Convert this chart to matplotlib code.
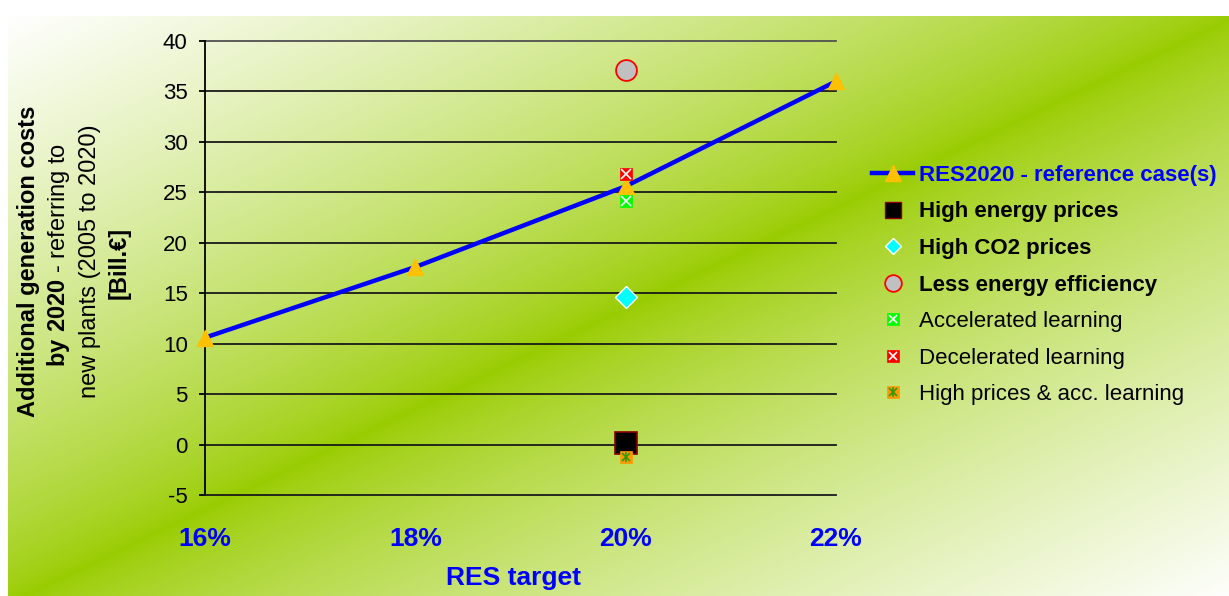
import numpy as np
import matplotlib
matplotlib.use("Agg")
import matplotlib.pyplot as plt
from matplotlib.lines import Line2D
from matplotlib.legend_handler import HandlerTuple

plt.rcParams['font.family'] = ['Liberation Sans', 'DejaVu Sans']
plt.rcParams['mathtext.fontset'] = 'custom'
plt.rcParams['mathtext.rm'] = 'Liberation Sans'
plt.rcParams['mathtext.bf'] = 'Liberation Sans:bold'

# ---- data ----
categories = ['16%', '18%', '20%', '22%']
reference_case = [10.6, 17.6, 25.6, 36.0]

scenario_category = '20%'
high_energy_prices = 0.2
high_co2_prices = 14.6
less_energy_efficiency = 37.1
accelerated_learning = 24.1
decelerated_learning = 26.8
high_prices_acc_learning = -1.2

y_ticks = [-5, 0, 5, 10, 15, 20, 25, 30, 35, 40]

W, H, DPI = 1229, 596, 100
fig = plt.figure(figsize=(W / DPI, H / DPI), dpi=DPI)
fig.patch.set_facecolor('white')

# ---- diagonal white-green-white background ----
bx0, by0 = 8, 16
bg = fig.add_axes([bx0 / W, 0, (W - bx0) / W, (H - by0) / H], zorder=-10)
xx, yy = np.meshgrid(np.arange(bx0, W) + 0.5, np.arange(by0, H) + 0.5)
slope = -0.478
ridge_y = 496 + slope * (xx - 233)
dist = np.abs(yy - ridge_y) / np.sqrt(1 + slope ** 2)
t = np.clip(dist / 530.0, 0, 1) ** 0.75
green = np.array([153, 204, 0]) / 255.0
white = np.array([1.0, 1.0, 1.0])
img = green[None, None, :] + (white - green)[None, None, :] * t[..., None]
bg.imshow(img, aspect='auto', interpolation='bilinear')
bg.set_axis_off()

# ---- plot area ----
left, right, top, bottom = 205, 836, 41, 495
ax = fig.add_axes([left / W, 1 - bottom / H, (right - left) / W, (bottom - top) / H])
ax.set_facecolor('none')

x = np.arange(len(categories))
xs = categories.index(scenario_category)

ax.set_xlim(0, len(categories) - 1)
ax.set_ylim(-5, 40)
ax.set_yticks(y_ticks)
ax.set_yticklabels([str(v) for v in y_ticks])
ax.set_xticks(x)
ax.set_xticklabels(categories)

for v in y_ticks[1:]:
    ax.axhline(v, color='#505050' if v == y_ticks[-1] else '#1a1a1a',
               lw=1.3, zorder=1, clip_on=False)

for s in ['top', 'right']:
    ax.spines[s].set_visible(False)
ax.spines['left'].set_color('black')
ax.spines['left'].set_linewidth(1.3)
ax.spines['bottom'].set_color('#1a1a1a')
ax.spines['bottom'].set_linewidth(1.3)

ax.tick_params(axis='y', length=4.5, width=1.3, color='black', pad=8,
               labelsize=16, labelcolor='black')
ax.tick_params(axis='x', length=0, pad=23, labelsize=19, labelcolor='#0000FF')
for lab in ax.get_xticklabels():
    lab.set_fontweight('bold')

# reference line
ax.plot(x, reference_case, color='#0000FF', lw=3.2, zorder=3,
        solid_capstyle='butt', clip_on=False)
ax.plot(x, reference_case, ls='none', marker='^', ms=12, mfc='#FFC000',
        mec='#FFC000', zorder=4, clip_on=False)

# scenario markers
ax.plot([xs], [high_energy_prices], marker='s', ms=15.5, mfc='black',
        mec='#8B0000', mew=1.2, ls='none', zorder=5)
ax.plot([xs], [high_co2_prices], marker='D', ms=11, mfc='#00FFFF',
        mec='white', mew=1.0, ls='none', zorder=5)
ax.plot([xs], [less_energy_efficiency], marker='o', ms=15, mfc='#C0C0C0',
        mec='#FF0000', mew=1.3, ls='none', zorder=5)

def x_box(val, face, cross, star=False, ms=9, z=6):
    ax.plot([xs], [val], marker='s', ms=ms, mfc=face, mec=face, mew=0.5,
            ls='none', zorder=z)
    ax.plot([xs], [val], marker='x', ms=ms * 0.75, mec=cross, mew=1.2,
            ls='none', zorder=z + 0.1)
    if star:
        ax.plot([xs], [val], marker='|', ms=ms * 0.85, mec=cross, mew=1.2,
                ls='none', zorder=z + 0.1)

x_box(accelerated_learning, '#00FF00', 'white')
x_box(decelerated_learning, '#FF0000', 'white')
x_box(high_prices_acc_learning, '#FF9900', '#339900', star=True, ms=8)

# ---- axis titles ----
fig.text(514 / W, 1 - 578 / H, 'RES target', color='#0000FF', fontsize=19,
         fontweight='bold', ha='center', va='center')

fig.text(29 / W, 1 - 261 / H, 'Additional generation costs', rotation=90,
         fontsize=17, fontweight='bold', ha='center', va='center')
fig.text(58 / W, 1 - 255 / H, r'$\mathbf{by\ 2020}$ - referring to', rotation=90,
         fontsize=17, ha='center', va='center')
fig.text(90 / W, 1 - 261 / H, 'new plants (2005 to 2020)', rotation=90,
         fontsize=17, ha='center', va='center')
fig.text(119 / W, 1 - 263 / H, '[Bill.€]', rotation=90, fontsize=17,
         fontweight='bold', ha='center', va='center')

# ---- legend ----
def sq(face, edge, ms, mew=1.0, marker='s'):
    return Line2D([], [], ls='none', marker=marker, ms=ms, mfc=face, mec=edge, mew=mew)

h_ref = (Line2D([], [], color='#0000FF', lw=3.2),
         Line2D([], [], ls='none', marker='^', ms=11, mfc='#FFC000', mec='#FFC000'))
h_hep = sq('black', '#8B0000', 11.5)
h_co2 = sq('#00FFFF', 'white', 8.5, marker='D')
h_lee = sq('#C0C0C0', '#FF0000', 12, mew=1.3, marker='o')
h_acc = (sq('#00FF00', '#00FF00', 8, 0.5),
         Line2D([], [], ls='none', marker='x', ms=6, mec='white', mew=1.2))
h_dec = (sq('#FF0000', '#FF0000', 8, 0.5),
         Line2D([], [], ls='none', marker='x', ms=6, mec='white', mew=1.2))
h_hpa = (sq('#FF9900', '#FF9900', 8, 0.5),
         Line2D([], [], ls='none', marker='x', ms=6, mec='#339900', mew=1.2),
         Line2D([], [], ls='none', marker='|', ms=7, mec='#339900', mew=1.2))

handles = [h_ref, h_hep, h_co2, h_lee, h_acc, h_dec, h_hpa]
labels = ['RES2020 - reference case(s)', 'High energy prices', 'High CO2 prices',
          'Less energy efficiency', 'Accelerated learning', 'Decelerated learning',
          'High prices & acc. learning']

leg = fig.legend(handles, labels, loc='center left',
                 bbox_to_anchor=(872 / W, 1 - 285 / H), frameon=False,
                 fontsize=16, handlelength=1.85, handletextpad=0.28,
                 labelspacing=0.7, borderpad=0, borderaxespad=0,
                 handler_map={tuple: HandlerTuple(ndivide=1, pad=0)})
texts = leg.get_texts()
texts[0].set_color('#0000FF')
for i in range(4):
    texts[i].set_fontweight('bold')

fig.savefig('out.png', dpi=DPI)
